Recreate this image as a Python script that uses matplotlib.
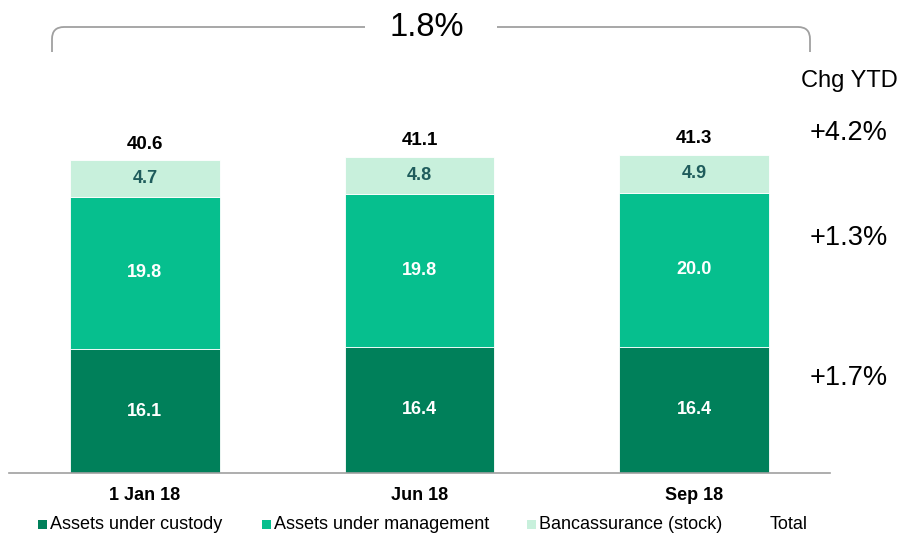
import matplotlib.pyplot as plt
from matplotlib.patches import Rectangle
from matplotlib.path import Path
from matplotlib.patches import PathPatch

plt.rcParams['font.family'] = ['Liberation Sans', 'DejaVu Sans']

periods = ["1 Jan 18", "Jun 18", "Sep 18"]
custody = [16.1, 16.4, 16.4]
management = [19.8, 19.8, 20.0]
bancassurance = [4.7, 4.8, 4.9]
totals = [40.6, 41.1, 41.3]
chg_ytd = ["+1.7%", "+1.3%", "+4.2%"]
total_chg = "1.8%"

c_dark = "#00805A"
c_mid = "#06BF8E"
c_light = "#C8F0DC"

fig = plt.figure(figsize=(9, 5.34), dpi=100)
ax = fig.add_axes([9 / 900, 61 / 534, 821 / 900, 413 / 534])

x = list(range(len(periods)))
w = 0.546
ax.bar(x, custody, w, color=c_dark, edgecolor="white", linewidth=0.6)
ax.bar(x, management, w, bottom=custody, color=c_mid, edgecolor="white", linewidth=0.6)
base2 = [a + b for a, b in zip(custody, management)]
ax.bar(x, bancassurance, w, bottom=base2, color=c_light, edgecolor="white", linewidth=0.6)

for i in x:
    ax.text(i, custody[i] / 2, f"{custody[i]:.1f}", ha="center", va="center",
            color="white", fontsize=13, fontweight="bold")
    ax.text(i, custody[i] + management[i] / 2, f"{management[i]:.1f}", ha="center",
            va="center", color="white", fontsize=13, fontweight="bold")
    ax.text(i, base2[i] + bancassurance[i] / 2, f"{bancassurance[i]:.1f}", ha="center",
            va="center", color="#1F5C5C", fontsize=13, fontweight="bold")
    ax.text(i, totals[i] + 2.1, f"{totals[i]:.1f}", ha="center", va="center",
            color="black", fontsize=13.5, fontweight="bold")

ax.set_xlim(-0.495, 2.495)
ax.set_ylim(0, 413 / 7.7)
ax.set_xticks(x)
ax.set_xticklabels(periods, fontsize=13, fontweight="bold")
ax.tick_params(axis="x", length=0, pad=10)
ax.set_yticks([])
for s in ["top", "right", "left"]:
    ax.spines[s].set_visible(False)
ax.spines["bottom"].set_color("#A0A0A0")
ax.spines["bottom"].set_linewidth(1.2)

# right column: change YTD per segment
H = 534.0
def fx(px):
    return px / 900
def fy(py):
    return 1 - py / H

fig.text(fx(849), fy(81), "Chg YTD", ha="center", va="center", fontsize=17)
for lbl, yp in zip(chg_ytd, [378, 238, 133]):
    fig.text(fx(849), fy(yp), lbl, ha="center", va="center", fontsize=19.5)

# bracket on top
r = 12
top = 27
bot = 52
left_pts = [(365, top), (52 + r, top), (52, top), (52, top + r), (52, bot)]
right_pts = [(497, top), (810 - r, top), (810, top), (810, top + r), (810, bot)]
codes = [Path.MOVETO, Path.LINETO, Path.CURVE3, Path.CURVE3, Path.LINETO]
for pts in (left_pts, right_pts):
    p = Path([(fx(a), fy(b)) for a, b in pts], codes)
    fig.patches.append(PathPatch(p, fill=False, edgecolor="#A0A0A0", linewidth=1.3,
                                 transform=fig.transFigure))
fig.text(fx(427), fy(27), total_chg, ha="center", va="center", fontsize=23.5)

# legend
legend_items = [("Assets under custody", c_dark, 38),
                ("Assets under management", c_mid, 262),
                ("Bancassurance (stock)", c_light, 527),
                ("Total", "white", 758)]
for name, col, px in legend_items:
    fig.patches.append(Rectangle((fx(px), fy(529)), 9 / 900, 9 / H, facecolor=col,
                                 edgecolor="none", transform=fig.transFigure))
    fig.text(fx(px + 12), fy(524.5), name, ha="left", va="center", fontsize=13)

fig.savefig("out.png", dpi=100)
